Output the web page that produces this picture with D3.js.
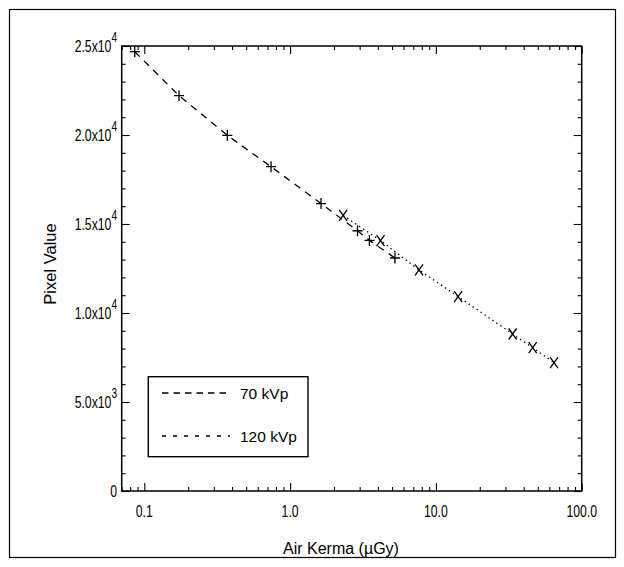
<!DOCTYPE html>
<html><head><meta charset="utf-8">
<script src="https://cdn.jsdelivr.net/npm/d3@7/dist/d3.min.js"></script>
<style>body{margin:0;background:#fff}</style>
</head><body>
<svg id="c" width="624" height="567"></svg>
<script>
// ---- data ----
const kerma70  = [0.086, 0.173, 0.371, 0.74, 1.63, 2.90, 3.50, 5.24];
const pixel70  = [24680, 22210, 19980, 18220, 16150, 14620, 14080, 13090];
const kerma120 = [2.31, 4.17, 7.66, 14.2, 33.6, 46.1, 64.6];
const pixel120 = [15480, 14070, 12420, 10920, 8820, 8050, 7210];
const xTickValues = [0.1, 1, 10, 100];
const xTickLabels = ["0.1", "1.0", "10.0", "100.0"];
const yTickValues = [0, 5000, 10000, 15000, 20000, 25000];
const yTickMantissa = ["0", "5.0", "1.0", "1.5", "2.0", "2.5"];
const yTickExponent = ["", "3", "4", "4", "4", "4"];
const seriesNames = ["70 kVp", "120 kVp"];
const xTitle = "Air Kerma (\u00B5Gy)";
const yTitle = "Pixel Value";

// ---- layout ----
const svg = d3.select("#c");
const L = 121.7, R = 581.7, T = 46, B = 491;
const x = d3.scaleLog().domain([0.07, 100]).range([L, R]);
const y = d3.scaleLinear().domain([0, 25000]).range([B, T]);
const sans = "'Liberation Sans',Arial,Helvetica,sans-serif";
const SQ = 0.72; // horizontal squeeze for condensed tick labels

svg.append("rect").attr("x", 9.5).attr("y", 9.5).attr("width", 606).attr("height", 548)
  .attr("fill", "none").attr("stroke", "#000").attr("stroke-width", 1.2);

// minor ticks
const xMinor = [];
[0.01, 0.1, 1, 10].forEach(d => { for (let k = 2; k <= 9; k++) { const v = d * k; if (v >= 0.07 && v < 100) xMinor.push(v); } });
const yMinor = d3.range(0, 25001, 1000).filter(v => v % 5000 !== 0);

function styleAxis(g) { g.select(".domain").remove(); g.selectAll("line").attr("stroke", "#000").attr("stroke-width", 1.1); g.selectAll("text").remove(); }

svg.append("g").attr("transform", `translate(0,${B})`).call(d3.axisBottom(x).tickValues(xTickValues).tickSize(-8)).call(styleAxis);
svg.append("g").attr("transform", `translate(0,${B})`).call(d3.axisBottom(x).tickValues(xMinor).tickSize(-4)).call(styleAxis);
svg.append("g").attr("transform", `translate(0,${T})`).call(d3.axisTop(x).tickValues(xTickValues).tickSize(-8)).call(styleAxis);
svg.append("g").attr("transform", `translate(0,${T})`).call(d3.axisTop(x).tickValues(xMinor).tickSize(-4)).call(styleAxis);
svg.append("g").attr("transform", `translate(${L},0)`).call(d3.axisLeft(y).tickValues(yTickValues).tickSize(-8)).call(styleAxis);
svg.append("g").attr("transform", `translate(${L},0)`).call(d3.axisLeft(y).tickValues(yMinor).tickSize(-4)).call(styleAxis);
svg.append("g").attr("transform", `translate(${R},0)`).call(d3.axisRight(y).tickValues(yTickValues).tickSize(-8)).call(styleAxis);
svg.append("g").attr("transform", `translate(${R},0)`).call(d3.axisRight(y).tickValues(yMinor).tickSize(-4)).call(styleAxis);

svg.append("rect").attr("x", L).attr("y", T).attr("width", R - L).attr("height", B - T)
  .attr("fill", "none").attr("stroke", "#000").attr("stroke-width", 1.5);

// x tick labels
svg.append("g").selectAll("text").data(xTickValues).join("text")
  .attr("transform", d => `translate(${x(d)},516.5) scale(${SQ},1)`).attr("text-anchor", "middle")
  .attr("font-family", sans).attr("font-size", 17).text((d, i) => xTickLabels[i]);

// y tick labels
const yl = svg.append("g").selectAll("text").data(yTickValues).join("text")
  .attr("transform", d => `translate(117,${y(d) + 6}) scale(${SQ},1)`).attr("text-anchor", "end")
  .attr("font-family", sans).attr("font-size", 17);
yl.each(function (d, i) {
  const t = d3.select(this);
  if (yTickExponent[i]) {
    t.append("tspan").text(yTickMantissa[i] + "x10");
    t.append("tspan").attr("dy", -10.5).attr("font-size", 14).text(yTickExponent[i]);
  } else {
    t.text(yTickMantissa[i]);
  }
});

// titles
svg.append("text").attr("x", 341).attr("y", 554).attr("text-anchor", "middle")
  .attr("font-family", sans).attr("font-size", 16).text(xTitle);
svg.append("text").attr("transform", "translate(55.5,264) rotate(-90)").attr("text-anchor", "middle")
  .attr("font-family", sans).attr("font-size", 16.5).text(yTitle);

// lines
const d70 = kerma70.map((k, i) => [k, pixel70[i]]);
const d120 = kerma120.map((k, i) => [k, pixel120[i]]);
const line = d3.line().x(d => x(d[0])).y(d => y(d[1]));
svg.append("path").attr("d", line(d70)).attr("fill", "none").attr("stroke", "#000")
  .attr("stroke-width", 1.3).attr("stroke-dasharray", "7,6");
svg.append("path").attr("d", line(d120)).attr("fill", "none").attr("stroke", "#000")
  .attr("stroke-width", 1.3).attr("stroke-dasharray", "1.4,3.4");

// markers
svg.append("g").selectAll("path").data(d70).join("path")
  .attr("d", d => { const cx = x(d[0]), cy = y(d[1]); return `M${cx - 5},${cy}H${cx + 5}M${cx},${cy - 5.5}V${cy + 5.5}`; })
  .attr("stroke", "#000").attr("stroke-width", 1.3).attr("fill", "none");
svg.append("g").selectAll("path").data(d120).join("path")
  .attr("d", d => { const cx = x(d[0]), cy = y(d[1]); return `M${cx - 4},${cy - 5.5}L${cx + 4},${cy + 5.5}M${cx + 4},${cy - 5.5}L${cx - 4},${cy + 5.5}`; })
  .attr("stroke", "#000").attr("stroke-width", 1.3).attr("fill", "none");

// legend
const lg = svg.append("g");
lg.append("rect").attr("x", 148.3).attr("y", 376.7).attr("width", 159.7).attr("height", 80)
  .attr("fill", "#fff").attr("stroke", "#000").attr("stroke-width", 1.4);
const legDash = ["6.5,5", "4,7"];
const legY = [393, 436];
seriesNames.forEach((n, i) => {
  lg.append("line").attr("x1", 162).attr("x2", 230).attr("y1", legY[i]).attr("y2", legY[i])
    .attr("stroke", "#000").attr("stroke-width", 1.5).attr("stroke-dasharray", legDash[i]);
  lg.append("text").attr("x", 240).attr("y", legY[i] + 5.5).attr("font-family", sans)
    .attr("font-size", 15.5).text(n);
});
</script>
</body></html>
